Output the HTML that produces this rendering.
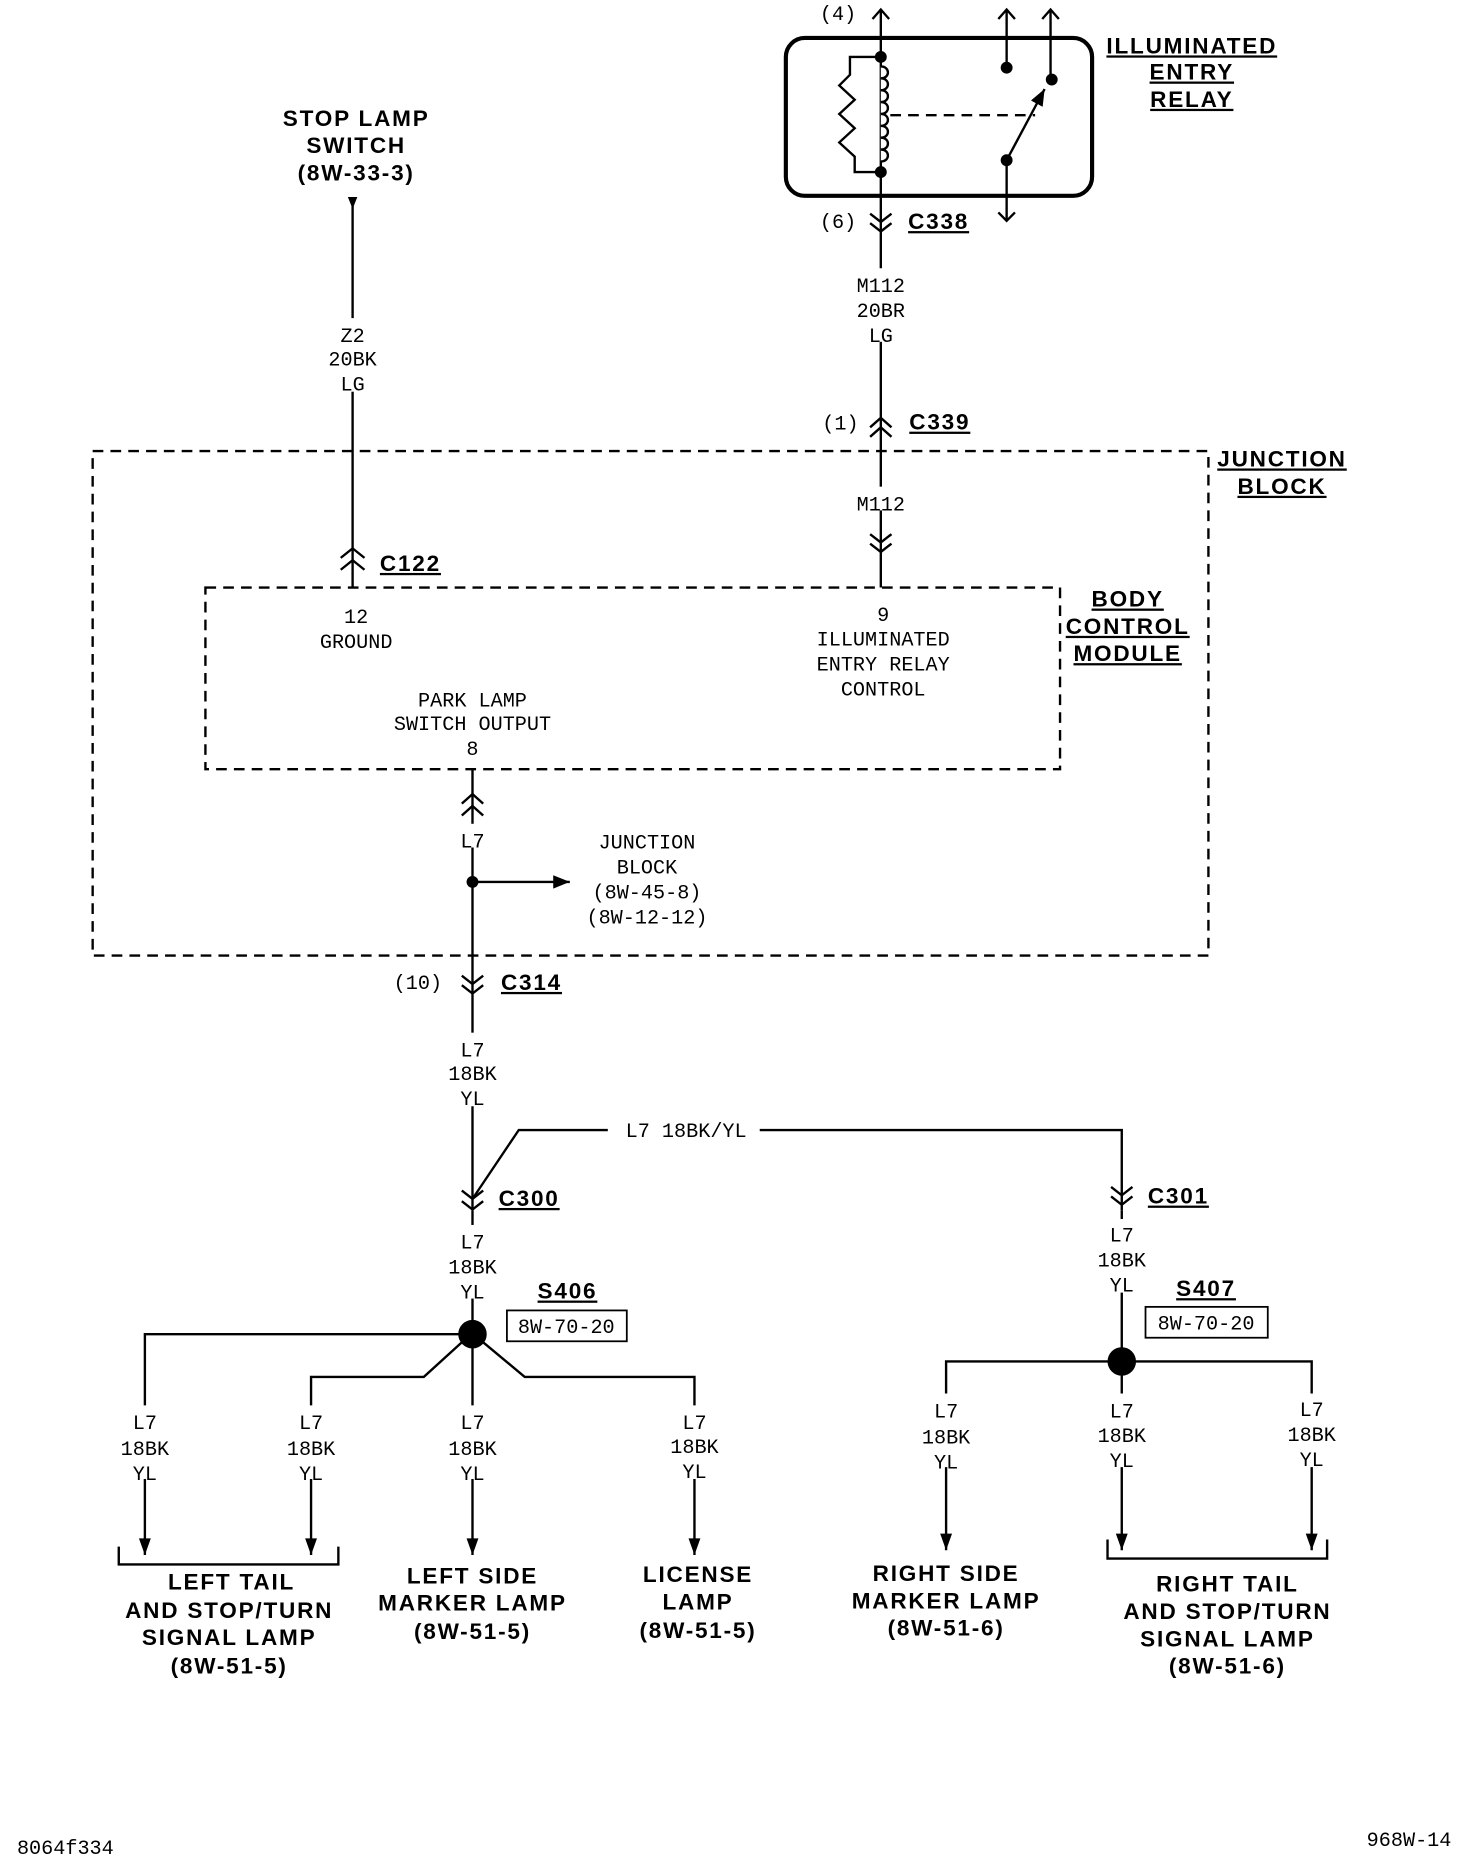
<!DOCTYPE html>
<html><head><meta charset="utf-8"><style>
html,body{margin:0;padding:0;background:#fff}
svg{display:block}
text{font-family:"Liberation Mono",monospace;font-size:17px;fill:#000;text-anchor:middle}
.b{font-family:"Liberation Sans",sans-serif;font-weight:bold;font-size:19px;letter-spacing:1.5px}
.l{text-anchor:start}
</style></head><body>
<svg width="1472" height="1860" viewBox="0 0 1240 1567" xmlns="http://www.w3.org/2000/svg">
<defs>
<marker id="ar" viewBox="0 0 10 10" refX="10" refY="5" markerWidth="7" markerHeight="7" orient="auto"><path d="M0,1 L10,5 L0,9 z" fill="#000"/></marker>
</defs>
<g stroke="#000" stroke-width="2" fill="none">
<!-- junction block and BCM -->
<rect x="78" y="380" width="940" height="425" stroke-dasharray="9,6"/>
<rect x="173" y="495" width="720" height="153" stroke-dasharray="9,6"/>
<!-- stop lamp wire -->
<line x1="297" y1="170" x2="297" y2="495"/>
<path d="M287,470 L297,462 L307,470 M287,480 L297,472 L307,480"/>
<!-- relay -->
<rect x="662" y="32" width="258" height="133" rx="16" stroke-width="3.5"/>
<line x1="742" y1="8" x2="742" y2="495"/>
<path d="M735,16 L742,8 L749,16 M841,16 L848,8 L855,16 M878,16 L885,8 L892,16"/>
<line x1="848" y1="8" x2="848" y2="57"/>
<line x1="885" y1="8" x2="885" y2="67"/>
<line x1="848" y1="135" x2="848" y2="186"/>
<path d="M841,179 L848,186 L855,179"/>
<path d="M742,48 H716 V63 L707,72 L720,84 L707,96 L720,108 L707,120 L720,132 V145 H742"/>
<path d="M742,56 c8,0 8,10 0,10 c8,0 8,10 0,10 c8,0 8,10 0,10 c8,0 8,10 0,10 c8,0 8,10 0,10 c8,0 8,10 0,10 c8,0 8,10 0,10 c8,0 8,10 0,10" fill="#fff"/>
<line x1="750" y1="97" x2="872" y2="97" stroke-dasharray="9,6"/>
<line x1="848" y1="135" x2="880" y2="75" marker-end="url(#ar)"/>
<!-- chevrons relay wire -->
<path d="M733,180 L742,187 L751,180 M733,188 L742,195 L751,188"/>
<path d="M733,360 L742,352 L751,360 M733,368 L742,360 L751,368"/>
<path d="M733,450 L742,457 L751,450 M733,458 L742,465 L751,458"/>
<!-- park lamp output -->
<line x1="398" y1="648" x2="398" y2="1020"/>
<path d="M389,677 L398,669 L407,677 M389,687 L398,679 L407,687"/>
<line x1="398" y1="743" x2="480" y2="743" marker-end="url(#ar)"/>
<path d="M389,822 L398,829 L407,822 M389,830 L398,837 L407,830"/>
<!-- C300 / C301 -->
<path d="M398,1010 L437,952 H945 V1020"/>
<path d="M389,1003 L398,1010 L407,1003 M389,1012 L398,1019 L407,1012"/>
<path d="M936,1000 L945,1007 L954,1000 M936,1008 L945,1015 L954,1008"/>
<line x1="398" y1="1020" x2="398" y2="1310"/>
<line x1="945" y1="1020" x2="945" y2="1306"/>
<!-- left branches -->
<path d="M398,1124 H122 V1310"/>
<path d="M390,1130 L357,1160 H262 V1310"/>
<path d="M406,1130 L442,1160 H585 V1310"/>
<path d="M945,1147 H797 V1306 M945,1147 H1105 V1306"/>
<!-- brackets -->
<path d="M100,1303 V1318 H285 V1303"/>
<path d="M933,1297 V1313 H1118 V1297"/>
<!-- boxes -->
<rect x="427" y="1104" width="101" height="26" stroke-width="1.5"/>
<rect x="965" y="1101" width="103" height="26" stroke-width="1.5"/>
</g>
<!-- arrowheads down -->
<g fill="#000">
<path d="M117,1296 L122,1310 L127,1296z M257,1296 L262,1310 L267,1296z M393,1296 L398,1310 L403,1296z M580,1296 L585,1310 L590,1296z M792,1292 L797,1306 L802,1292z M940,1292 L945,1306 L950,1292z M1100,1292 L1105,1306 L1110,1292z"/>
<path d="M293,166 L297,176 L301,166z"/>
<circle cx="742" cy="48" r="5"/><circle cx="742" cy="145" r="5"/>
<circle cx="848" cy="57" r="5"/><circle cx="886" cy="67" r="5"/><circle cx="848" cy="135" r="5"/>
<circle cx="398" cy="743" r="5"/>
<circle cx="398" cy="1124" r="12"/><circle cx="945" cy="1147" r="12"/>
</g>
<!-- white label backgrounds -->
<g fill="#fff">
<rect x="272" y="268" width="50" height="62"/>
<rect x="712" y="226" width="60" height="62"/>
<rect x="712" y="410" width="60" height="20"/>
<rect x="382" y="694" width="32" height="20"/>
<rect x="370" y="870" width="56" height="62"/>
<rect x="512" y="940" width="128" height="22"/>
<rect x="370" y="1032" width="56" height="62"/>
<rect x="917" y="1027" width="56" height="62"/>
<rect x="94" y="1184" width="56" height="62"/><rect x="234" y="1184" width="56" height="62"/>
<rect x="370" y="1184" width="56" height="62"/><rect x="557" y="1184" width="56" height="62"/>
<rect x="769" y="1174" width="56" height="62"/><rect x="917" y="1174" width="56" height="62"/>
<rect x="1077" y="1174" width="56" height="62"/>
</g>
<!-- labels -->
<text class="b" x="300" y="106">STOP LAMP</text>
<text class="b" x="300" y="129">SWITCH</text>
<text class="b" x="300" y="152">(8W-33-3)</text>
<text x="297" y="288">Z2</text><text x="297" y="308">20BK</text><text x="297" y="329">LG</text>
<text class="b l" x="320" y="481" text-decoration="underline">C122</text>
<text class="b" x="1004" y="45" text-decoration="underline">ILLUMINATED</text>
<text class="b" x="1004" y="67" text-decoration="underline">ENTRY</text>
<text class="b" x="1004" y="90" text-decoration="underline">RELAY</text>
<text x="706" y="17">(4)</text>
<text x="706" y="192">(6)</text>
<text class="b l" x="765" y="193" text-decoration="underline">C338</text>
<text x="742" y="246">M112</text><text x="742" y="267">20BR</text><text x="742" y="288">LG</text>
<text x="708" y="362">(1)</text>
<text class="b l" x="766" y="362" text-decoration="underline">C339</text>
<text x="742" y="430">M112</text>
<text class="b" x="1080" y="393" text-decoration="underline">JUNCTION</text>
<text class="b" x="1080" y="416" text-decoration="underline">BLOCK</text>
<text class="b" x="950" y="511" text-decoration="underline">BODY</text>
<text class="b" x="950" y="534" text-decoration="underline">CONTROL</text>
<text class="b" x="950" y="557" text-decoration="underline">MODULE</text>
<text x="300" y="525">12</text><text x="300" y="546">GROUND</text>
<text x="744" y="523">9</text><text x="744" y="544">ILLUMINATED</text><text x="744" y="565">ENTRY RELAY</text><text x="744" y="586">CONTROL</text>
<text x="398" y="595">PARK LAMP</text><text x="398" y="615">SWITCH OUTPUT</text><text x="398" y="636">8</text>
<text x="398" y="714">L7</text>
<text x="545" y="715">JUNCTION</text><text x="545" y="736">BLOCK</text><text x="545" y="757">(8W-45-8)</text><text x="545" y="778">(8W-12-12)</text>
<text x="352" y="833">(10)</text>
<text class="b l" x="422" y="834" text-decoration="underline">C314</text>
<text x="398" y="890">L7</text><text x="398" y="910">18BK</text><text x="398" y="931">YL</text>
<text x="578" y="958">L7 18BK/YL</text>
<text class="b l" x="420" y="1016" text-decoration="underline">C300</text>
<text class="b l" x="967" y="1014" text-decoration="underline">C301</text>
<text x="398" y="1052">L7</text><text x="398" y="1073">18BK</text><text x="398" y="1094">YL</text>
<text x="945" y="1046">L7</text><text x="945" y="1067">18BK</text><text x="945" y="1088">YL</text>
<text class="b" x="478" y="1094" text-decoration="underline">S406</text>
<text x="477" y="1123">8W-70-20</text>
<text class="b" x="1016" y="1092" text-decoration="underline">S407</text>
<text x="1016" y="1120">8W-70-20</text>
<text x="122" y="1204">L7</text><text x="122" y="1226">18BK</text><text x="122" y="1247">YL</text>
<text x="262" y="1204">L7</text><text x="262" y="1226">18BK</text><text x="262" y="1247">YL</text>
<text x="398" y="1204">L7</text><text x="398" y="1226">18BK</text><text x="398" y="1247">YL</text>
<text x="585" y="1204">L7</text><text x="585" y="1224">18BK</text><text x="585" y="1245">YL</text>
<text x="797" y="1194">L7</text><text x="797" y="1216">18BK</text><text x="797" y="1237">YL</text>
<text x="945" y="1194">L7</text><text x="945" y="1215">18BK</text><text x="945" y="1236">YL</text>
<text x="1105" y="1193">L7</text><text x="1105" y="1214">18BK</text><text x="1105" y="1235">YL</text>
<text class="b" x="195" y="1339">LEFT TAIL</text><text class="b" x="193" y="1363">AND STOP/TURN</text><text class="b" x="193" y="1386">SIGNAL LAMP</text><text class="b" x="193" y="1410">(8W-51-5)</text>
<text class="b" x="398" y="1334">LEFT SIDE</text><text class="b" x="398" y="1357">MARKER LAMP</text><text class="b" x="398" y="1381">(8W-51-5)</text>
<text class="b" x="588" y="1333">LICENSE</text><text class="b" x="588" y="1356">LAMP</text><text class="b" x="588" y="1380">(8W-51-5)</text>
<text class="b" x="797" y="1332">RIGHT SIDE</text><text class="b" x="797" y="1355">MARKER LAMP</text><text class="b" x="797" y="1378">(8W-51-6)</text>
<text class="b" x="1034" y="1341">RIGHT TAIL</text><text class="b" x="1034" y="1364">AND STOP/TURN</text><text class="b" x="1034" y="1387">SIGNAL LAMP</text><text class="b" x="1034" y="1410">(8W-51-6)</text>
<text x="55" y="1562">8064f334</text>
<text x="1187" y="1555">968W-14</text>
</svg>
</body></html>
